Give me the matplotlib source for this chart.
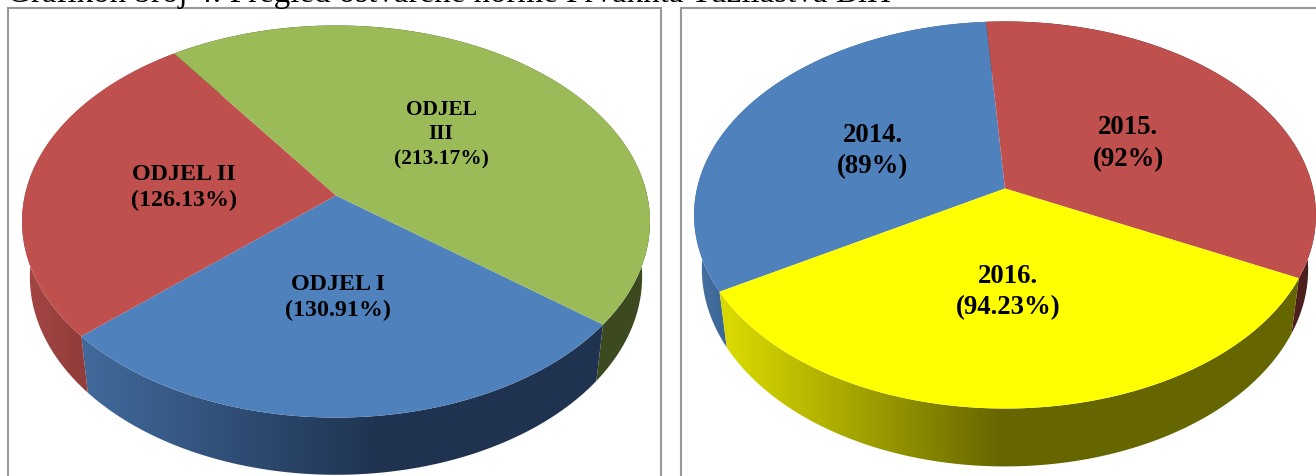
import numpy as np
import matplotlib
matplotlib.use("Agg")
import matplotlib.pyplot as plt
from matplotlib.patches import Polygon, Rectangle
from matplotlib.colors import to_rgb

plt.rcParams['font.family'] = ['Liberation Serif', 'DejaVu Serif']

naslov = "Grafikon broj 4: Pregled ostvarene norme Prvaknta Tužilaštva BiH"

odjeli = ["ODJEL I", "ODJEL II", "ODJEL\nIII"]
odjeli_vrijednosti = [130.91, 126.13, 213.17]
odjeli_oznake = ["130.91%", "126.13%", "213.17%"]

godine = ["2014.", "2015.", "2016."]
godine_vrijednosti = [89, 92, 94.23]
godine_oznake = ["89%", "92%", "94.23%"]


# krug u perspektivi -> pikseli slike
def projekcija(t, pie, skala_x=1.0, skala_y=1.0, pomak=0.0):
    nazivnik = 1 + pie["k"] * np.sin(t)
    x = pie["cx"] + skala_x * pie["R"] * np.cos(t) / nazivnik
    y = pie["cy"] - skala_y * pie["S"] * np.sin(t) / nazivnik + pomak
    return x, y


def nacrtaj_pitu(ax, vrijednosti, imena, oznake, pie):
    udjeli = np.array(vrijednosti) / sum(vrijednosti) * 2 * np.pi
    pocetak = np.radians(pie["start"])
    granice = [(pocetak - udjeli[:i].sum(), pocetak - udjeli[:i + 1].sum())
               for i in range(len(udjeli))]

    # bocni zid s gradijentom
    for (a, b), zid in zip(granice, pie["zidovi"]):
        t = np.linspace(a, b, 200)
        x1, y1 = projekcija(t, pie)
        x2, y2 = projekcija(t, pie, pie["skala_x"], pie["skala_y"], pie["dubina"])
        poly = Polygon(np.r_[np.c_[x1, y1], np.c_[x2, y2][::-1]], closed=True,
                       facecolor="none", edgecolor="none", transform=ax.transData)
        ax.add_patch(poly)
        x_ose = np.linspace(x1.min() - 2, x1.max() + 2, 300)
        boje = np.array([np.interp(x_ose, zid[0], [to_rgb(c)[i] for c in zid[1]])
                         for i in range(3)]).T
        img = ax.imshow(boje[np.newaxis, :, :], aspect="auto", zorder=2,
                        extent=(x_ose[0], x_ose[-1], 477, 0), interpolation="bilinear")
        img.set_clip_path(poly)

    # gornja ploha
    for (a, b), boja in zip(granice, pie["boje"]):
        t = np.linspace(a, b, 200)
        x1, y1 = projekcija(t, pie)
        ax.fill(np.r_[pie["cx"], x1], np.r_[pie["cy"], y1], color=boja, lw=0, zorder=3)

    for ime, oznaka, (x, y), vel, raz in zip(imena, oznake, pie["tekst"], pie["font"], pie["razmak"]):
        ax.text(x, y, f"{ime}\n({oznaka})", ha="center", va="center", zorder=4,
                fontsize=vel, fontweight="bold", color="black", linespacing=raz)


fig = plt.figure(figsize=(13.16, 4.77), dpi=100)
ax = fig.add_axes([0, 0, 1, 1])

# okviri grafikona
ax.add_patch(Rectangle((8, 9), 653, 490, fc="white", ec="#989898", lw=1.5))
ax.add_patch(Rectangle((681, 9), 660, 490, fc="white", ec="#989898", lw=1.5))

lijeva = dict(cx=336, cy=196.5, R=311.2, S=192.6, k=0.1327, start=322,
              skala_x=0.975, skala_y=1.01, dubina=55,
              boje=["#4f81bd", "#c0504d", "#9bbb59"],
              zidovi=[([90, 380], ["#40699a", "#1f3350"]),
                      ([30, 90], ["#a24543", "#8f3c3a"]),
                      ([600, 650], ["#3d4a20", "#3d4a20"])],
              tekst=[(338, 298), (184, 187.5), (441, 134.5)],
              font=[17.3, 17.3, 15.4], razmak=[1.3, 1.3, 1.33])
desna = dict(cx=1005, cy=189.5, R=308, S=189.9, k=0.1369, start=210.4,
             skala_x=0.975, skala_y=1.02, dubina=53.5,
             boje=["#4f81bd", "#c0504d", "#ffff00"],
             zidovi=[([700, 730], ["#44709f", "#3a6594"]),
                     ([1285, 1316], ["#4d1f1e", "#4d1f1e"]),
                     ([730, 1000], ["#d9d900", "#666600"])],
             tekst=[(873, 151), (1128, 143.5), (1008, 292)],
             font=[19.3, 19.3, 19.3], razmak=[1.36, 1.36, 1.36])

nacrtaj_pitu(ax, odjeli_vrijednosti, odjeli, odjeli_oznake, lijeva)
nacrtaj_pitu(ax, godine_vrijednosti, godine, godine_oznake, desna)

ax.text(7, 2, naslov, ha="left", va="baseline", fontsize=23.8, color="black")

ax.set_xlim(0, 1316)
ax.set_ylim(477, 0)
ax.axis("off")
fig.savefig("out.png", dpi=100)
